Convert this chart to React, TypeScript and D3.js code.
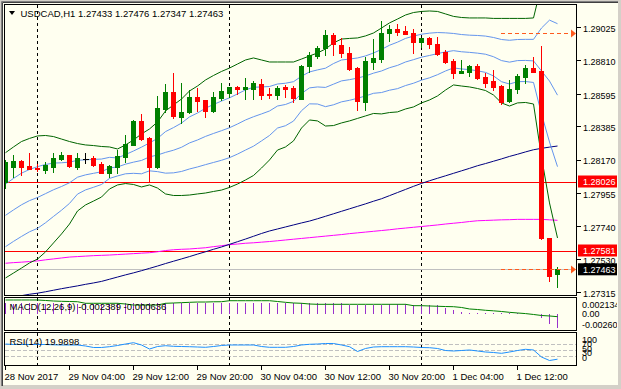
import React from "react";
import * as d3 from "d3";

// ---------- data ----------
const openP = [
  1.28028,1.28125,1.28163,1.28129,1.28118,1.28105,1.28123,1.28174,1.28198,1.28123,
  1.28174,1.28181,1.28142,1.28086,1.28123,1.28189,1.28265,1.28420,1.28310,1.28123,
  1.28497,1.28607,1.28447,1.28479,1.28572,1.28555,1.28486,1.28570,1.28602,1.28637,
  1.28628,1.28628,1.28658,1.28594,1.28587,1.28637,1.28630,1.28563,1.28774,1.28841,
  1.28888,1.28976,1.28910,1.28856,1.28759,1.28544,1.28802,1.28817,1.28985,1.29011,
  1.29002,1.28985,1.28931,1.28953,1.28916,1.28866,1.28808,1.28731,1.28737,1.28774,
  1.28705,1.28679,1.28645,1.28548,1.28624,1.28701,1.28759,1.28744,1.27667,1.27433];
const highP = [
  1.28168,1.28200,1.28168,1.28213,1.28145,1.28155,1.28211,1.28221,1.28200,1.28211,
  1.28211,1.28194,1.28153,1.28136,1.28232,1.28329,1.28426,1.28465,1.28313,1.28581,
  1.28658,1.28731,1.28663,1.28619,1.28630,1.28558,1.28607,1.28667,1.28639,1.28645,
  1.28697,1.28679,1.28688,1.28630,1.28645,1.28650,1.28645,1.28781,1.28866,1.28903,
  1.29006,1.28989,1.28953,1.28899,1.28770,1.28834,1.28946,1.29066,1.29039,1.29045,
  1.29032,1.29011,1.28957,1.28963,1.28963,1.28877,1.28817,1.28813,1.28781,1.28787,
  1.28727,1.28748,1.28652,1.28684,1.28723,1.28781,1.28830,1.28905,1.27668,1.27476];
const lowP = [
  1.27987,1.28058,1.28071,1.28107,1.28097,1.28086,1.28092,1.28168,1.28123,1.28110,
  1.28150,1.28129,1.28082,1.28056,1.28086,1.28157,1.28262,1.28297,1.28026,1.28116,
  1.28478,1.28439,1.28409,1.28469,1.28486,1.28443,1.28479,1.28555,1.28576,1.28594,
  1.28563,1.28563,1.28563,1.28566,1.28563,1.28576,1.28542,1.28559,1.28737,1.28824,
  1.28845,1.28845,1.28834,1.28748,1.28490,1.28490,1.28753,1.28802,1.28937,1.28974,
  1.28979,1.28856,1.28899,1.28888,1.28845,1.28796,1.28699,1.28727,1.28710,1.28688,
  1.28637,1.28619,1.28529,1.28544,1.28598,1.28663,1.28737,1.27658,1.27389,1.27347];
const closeP = [
  1.28155,1.28163,1.28125,1.28110,1.28107,1.28134,1.28181,1.28198,1.28129,1.28181,
  1.28174,1.28136,1.28086,1.28129,1.28194,1.28271,1.28420,1.28303,1.28123,1.28503,
  1.28605,1.28452,1.28478,1.28576,1.28550,1.28486,1.28574,1.28615,1.28637,1.28628,
  1.28637,1.28667,1.28587,1.28587,1.28632,1.28628,1.28566,1.28776,1.28845,1.28892,
  1.28976,1.28914,1.28856,1.28755,1.28547,1.28806,1.28824,1.28989,1.29011,1.28995,
  1.28983,1.28931,1.28953,1.28914,1.28852,1.28802,1.28731,1.28744,1.28774,1.28695,
  1.28667,1.28637,1.28544,1.28624,1.28710,1.28759,1.28737,1.27663,1.27420,1.27463];

const bbUpper2 = [
  1.28215,1.28252,1.28287,1.28307,1.28323,1.28326,1.28319,1.28303,1.28287,1.28274,
  1.28265,1.28261,1.28255,1.28252,1.28239,1.28265,1.28297,1.28336,1.28368,1.28413,
  1.28484,1.28523,1.28561,1.28613,1.28645,1.28684,1.28713,1.28739,1.28761,1.28787,
  1.28813,1.28826,1.28813,1.28800,1.28800,1.28800,1.28800,1.28819,1.28839,1.28858,
  1.28884,1.28923,1.28948,1.28952,1.28955,1.28968,1.28987,1.29019,1.29052,1.29077,
  1.29103,1.29119,1.29126,1.29129,1.29126,1.29110,1.29094,1.29087,1.29084,1.29084,
  1.29084,1.29081,1.29081,1.29081,1.29081,1.29081,1.29084,1.29296,1.29462,1.29507];
const bbUpper1 = [
  1.28013,1.28049,1.28083,1.28107,1.28125,1.28139,1.28148,1.28150,1.28154,1.28166,
  1.28169,1.28172,1.28174,1.28185,1.28181,1.28203,1.28226,1.28251,1.28278,1.28307,
  1.28351,1.28377,1.28406,1.28446,1.28471,1.28502,1.28526,1.28548,1.28569,1.28594,
  1.28620,1.28637,1.28639,1.28642,1.28658,1.28663,1.28673,1.28708,1.28736,1.28749,
  1.28760,1.28790,1.28813,1.28819,1.28826,1.28839,1.28858,1.28881,1.28908,1.28928,
  1.28952,1.28967,1.28979,1.28986,1.28990,1.28988,1.28984,1.28977,1.28973,1.28971,
  1.28967,1.28958,1.28945,1.28940,1.28945,1.28946,1.28946,1.29019,1.29070,1.29047];
const bbMiddle = [
  1.27811,1.27846,1.27879,1.27906,1.27926,1.27951,1.27976,1.27997,1.28021,1.28057,
  1.28072,1.28082,1.28092,1.28117,1.28123,1.28141,1.28154,1.28165,1.28188,1.28200,
  1.28217,1.28231,1.28250,1.28278,1.28297,1.28320,1.28339,1.28357,1.28376,1.28400,
  1.28426,1.28447,1.28465,1.28484,1.28516,1.28526,1.28546,1.28597,1.28633,1.28639,
  1.28636,1.28657,1.28678,1.28686,1.28696,1.28710,1.28728,1.28742,1.28763,1.28778,
  1.28800,1.28815,1.28831,1.28842,1.28854,1.28865,1.28873,1.28866,1.28862,1.28857,
  1.28850,1.28834,1.28809,1.28799,1.28809,1.28810,1.28807,1.28742,1.28677,1.28586];
const bbLower1 = [
  1.27609,1.27643,1.27675,1.27705,1.27727,1.27763,1.27804,1.27844,1.27888,1.27948,
  1.27975,1.27992,1.28010,1.28049,1.28065,1.28079,1.28082,1.28079,1.28098,1.28093,
  1.28083,1.28085,1.28094,1.28110,1.28123,1.28138,1.28152,1.28166,1.28183,1.28206,
  1.28232,1.28257,1.28291,1.28326,1.28374,1.28389,1.28419,1.28486,1.28530,1.28529,
  1.28512,1.28524,1.28543,1.28553,1.28566,1.28581,1.28598,1.28603,1.28618,1.28628,
  1.28648,1.28663,1.28683,1.28698,1.28718,1.28742,1.28762,1.28755,1.28751,1.28743,
  1.28733,1.28710,1.28673,1.28658,1.28673,1.28674,1.28668,1.28465,1.28284,1.28125];
const bbLower2 = [
  1.27407,1.27439,1.27471,1.27504,1.27529,1.27575,1.27633,1.27691,1.27755,1.27839,
  1.27878,1.27903,1.27929,1.27981,1.28007,1.28016,1.28010,1.27994,1.28007,1.27987,
  1.27949,1.27939,1.27939,1.27942,1.27949,1.27955,1.27965,1.27974,1.27991,1.28013,
  1.28039,1.28068,1.28116,1.28168,1.28232,1.28252,1.28291,1.28374,1.28426,1.28420,
  1.28387,1.28390,1.28407,1.28420,1.28436,1.28452,1.28468,1.28465,1.28474,1.28478,
  1.28497,1.28510,1.28536,1.28555,1.28581,1.28619,1.28652,1.28645,1.28639,1.28629,
  1.28616,1.28587,1.28536,1.28516,1.28536,1.28539,1.28529,1.28187,1.27891,1.27665];

const maNavy = [
  1.27276,1.27284,1.27293,1.27302,1.27309,1.27318,1.27328,1.27338,1.27347,1.27356,
  1.27366,1.27375,1.27385,1.27399,1.27413,1.27427,1.27440,1.27454,1.27469,1.27484,
  1.27500,1.27515,1.27530,1.27545,1.27561,1.27576,1.27592,1.27607,1.27624,1.27641,
  1.27658,1.27676,1.27694,1.27710,1.27723,1.27736,1.27749,1.27762,1.27774,1.27789,
  1.27805,1.27821,1.27837,1.27853,1.27869,1.27885,1.27902,1.27918,1.27938,1.27958,
  1.27978,1.27998,1.28017,1.28034,1.28050,1.28066,1.28082,1.28098,1.28114,1.28131,
  1.28145,1.28160,1.28175,1.28191,1.28205,1.28220,1.28234,1.28243,1.28251,1.28258];
const maMagenta = [
  1.27502,1.27506,1.27509,1.27513,1.27517,1.27524,1.27530,1.27536,1.27542,1.27545,
  1.27548,1.27551,1.27553,1.27555,1.27558,1.27561,1.27564,1.27567,1.27570,1.27576,
  1.27584,1.27589,1.27592,1.27594,1.27598,1.27602,1.27609,1.27615,1.27622,1.27626,
  1.27631,1.27634,1.27638,1.27642,1.27647,1.27652,1.27657,1.27662,1.27667,1.27672,
  1.27677,1.27682,1.27687,1.27693,1.27698,1.27703,1.27708,1.27713,1.27718,1.27724,
  1.27729,1.27734,1.27739,1.27744,1.27749,1.27755,1.27760,1.27765,1.27771,1.27776,
  1.27778,1.27780,1.27782,1.27783,1.27785,1.27785,1.27785,1.27785,1.27782,1.27779];

const macdMain = [
  0.00176,0.00175,0.00176,0.00177,0.00176,0.00175,0.00176,0.00177,0.00176,0.00175,
  0.00176,0.00175,0.00174,0.00175,0.00176,0.00180,0.00184,0.00184,0.00180,0.00182,
  0.00184,0.00181,0.00180,0.00180,0.00179,0.00178,0.00179,0.00180,0.00181,0.00181,
  0.00180,0.00180,0.00179,0.00178,0.00178,0.00177,0.00178,0.00180,0.00181,0.00179,
  0.00180,0.00179,0.00178,0.00152,0.00150,0.00150,0.00151,0.00152,0.00162,0.00162,
  0.00161,0.00152,0.00150,0.00150,0.00149,0.00095,0.00067,0.00038,0.00012,0.00010,
  0.00010,0.00010,0.00010,0.00010,0.00010,0.00008,-0.00006,-0.00072,-0.00172,-0.002389];
const macdSignal = [
  0.00234,0.00234,0.00234,0.00234,0.00234,0.00226,0.00217,0.00212,0.00209,0.00205,
  0.00179,0.00179,0.00179,0.00179,0.00179,0.00167,0.00150,0.00150,0.00150,0.00150,
  0.00179,0.00184,0.00189,0.00195,0.00200,0.00200,0.00204,0.00205,0.00222,0.00222,
  0.00222,0.00222,0.00222,0.00222,0.00209,0.00195,0.00184,0.00179,0.00167,0.00162,
  0.00162,0.00162,0.00162,0.00162,0.00162,0.00162,0.00162,0.00162,0.00162,0.00162,
  0.00162,0.00139,0.00139,0.00134,0.00129,0.00125,0.00122,0.00109,0.00084,0.00075,
  0.00062,0.00053,0.00042,0.00028,0.00017,0.00007,-0.00008,-0.00025,-0.00033,-0.00045];
const rsiValues = [
  69.8,68.2,68.2,68.2,68.2,68.2,67.2,66.6,66.6,66.6,
  63.3,58.4,58.4,61.0,64.9,69.8,74.1,66.6,53.4,61.6,
  64.3,62.3,61.6,61.0,60.0,59.0,61.6,64.9,66.6,66.6,
  66.6,66.6,61.6,59.0,59.0,59.0,61.6,66.6,68.9,69.8,
  71.5,71.5,66.6,61.0,45.2,55.1,60.0,61.0,61.0,61.0,
  61.0,60.0,58.4,57.7,55.1,48.5,46.9,48.5,50.2,46.9,
  43.6,42.0,39.3,43.6,48.5,52.5,50.2,27.2,15.7,19.99];

const timeTicks = [
  { bar: 0, label: "28 Nov 2017" },
  { bar: 8, label: "29 Nov 04:00" },
  { bar: 16, label: "29 Nov 12:00" },
  { bar: 24, label: "29 Nov 20:00" },
  { bar: 32, label: "30 Nov 04:00" },
  { bar: 40, label: "30 Nov 12:00" },
  { bar: 48, label: "30 Nov 20:00" },
  { bar: 56, label: "1 Dec 04:00" },
  { bar: 64, label: "1 Dec 12:00" },
];
const daySeparatorBars = [4, 28, 52];
const priceTicks = [1.29025, 1.2881, 1.28595, 1.28385, 1.2817, 1.27955, 1.2774, 1.2753, 1.27315];
const redLevels = [1.28026, 1.27581];
const bidPrice = 1.27463;
const arrowLevels = [1.28985, 1.27463];
const rsiLevels = [70, 50, 30];
const titleText = "USDCAD,H1  1.27433 1.27476 1.27347 1.27463";
const macdText = "MACD(12,26,9) -0.002389 -0.000636";
const rsiText = "RSI(14) 19.9898";
const macdLabels = ["0.002134", "0.00", "-0.002604"];
const rsiLabels = ["100", "70", "50", "30", "0"];

// ---------- layout ----------
const W = 621, H = 389;
const L = 4.5, R = 576.5;
const mainTop = 4.5, mainBot = 295.5;
const macdTop = 297.5, macdBot = 330.5;
const rsiTop = 332.5, rsiBot = 365.5;
const FONT = "'Liberation Sans', Arial, sans-serif";
const BG = "#FFFFF0";

export default function App() {
  const n = closeP.length;
  const x = d3.scaleLinear().domain([0, n - 1]).range([5.5, 5.5 + 8 * (n - 1)]);
  const y = d3.scaleLinear().domain([1.27581, 1.28026]).range([251, 182]);
  const yM = d3.scaleLinear().domain([-0.002389, 0]).range([328.3, 314]);
  const yR = d3.scaleLinear().domain([0, 100]).range([365.3, 334.8]);

  const mk = (arr: number[], sc: (v: number) => number) =>
    d3.line<number>().x((_, i) => x(i)).y((d) => sc(d))(arr) || "";

  const bbBlue = [bbUpper1, bbMiddle, bbLower1];
  const bbGreen = [bbUpper2, bbLower2];

  return (
    <svg
      width={W}
      height={H}
      style={{ position: "absolute", left: 0, top: 0, display: "block" }}
      fontFamily={FONT}
    >
      <defs>
        <clipPath id="mainClip">
          <rect x={L + 0.5} y={mainTop + 0.5} width={R - L - 1} height={mainBot - mainTop - 1} />
        </clipPath>
        <clipPath id="macdClip">
          <rect x={L + 0.5} y={macdTop + 0.5} width={R - L - 1} height={macdBot - macdTop - 1} />
        </clipPath>
        <clipPath id="rsiClip">
          <rect x={L + 0.5} y={rsiTop + 0.5} width={R - L - 1} height={rsiBot - rsiTop - 1} />
        </clipPath>
        <clipPath id="allClip">
          <rect x={0} y={0} width={617} height={H} />
        </clipPath>
      </defs>

      {/* window frame */}
      <rect x={0} y={0} width={W} height={H} fill="#D4D0C8" />
      <rect x={2} y={2} width={616} height={383} fill={BG} />
      <line x1={1.5} y1={1.5} x2={618} y2={1.5} stroke="#808080" />
      <line x1={1.5} y1={1.5} x2={1.5} y2={386} stroke="#808080" />
      <line x1={2.5} y1={2.5} x2={618} y2={2.5} stroke="#404040" />
      <line x1={2.5} y1={2.5} x2={2.5} y2={386} stroke="#404040" />

      {/* main panel */}
      <g clipPath="url(#mainClip)">
        {daySeparatorBars.map((b) => (
          <line key={"s" + b} x1={x(b)} x2={x(b)} y1={mainTop} y2={mainBot} stroke="#000" strokeDasharray="3,3" shapeRendering="crispEdges" />
        ))}
        {redLevels.map((p) => (
          <line key={"r" + p} x1={L} x2={R} y1={Math.round(y(p)) + 0.5} y2={Math.round(y(p)) + 0.5} stroke="#FF0000" shapeRendering="crispEdges" />
        ))}
        <line x1={L} x2={R} y1={Math.round(y(bidPrice)) + 0.5} y2={Math.round(y(bidPrice)) + 0.5} stroke="#C0C0C0" shapeRendering="crispEdges" />
        <path d={mk(maMagenta, y)} fill="none" stroke="#FF00FF" strokeWidth={1} />
        <path d={mk(maNavy, y)} fill="none" stroke="#000080" strokeWidth={1} />
        {bbBlue.map((arr, k) => (
          <path key={"bb" + k} d={mk(arr, y)} fill="none" stroke="#6495ED" strokeWidth={1} />
        ))}
        {bbGreen.map((arr, k) => (
          <path key={"bg" + k} d={mk(arr, y)} fill="none" stroke="#006400" strokeWidth={1} />
        ))}
        {closeP.map((c, i) => {
          const o = openP[i];
          const cx = x(i);
          const hi = Math.round(y(highP[i]));
          const lo = Math.round(y(lowP[i]));
          if (o === c) {
            const yy = Math.round(y(c)) + 0.5;
            return (
              <g key={i} shapeRendering="crispEdges">
                <line x1={cx} x2={cx} y1={hi} y2={lo + 1} stroke="#000" />
                <line x1={cx - 2.5} x2={cx + 3.5} y1={yy} y2={yy} stroke="#000" />
              </g>
            );
          }
          const up = c > o;
          const col = up ? "#008000" : "#FF0000";
          const top = Math.round(y(Math.max(o, c)));
          const bot = Math.round(y(Math.min(o, c)));
          return (
            <g key={i} shapeRendering="crispEdges">
              <line x1={cx} x2={cx} y1={hi} y2={lo + 1} stroke={col} />
              <rect x={cx - 2.5} y={top} width={5} height={Math.max(1, bot - top + 1)} fill={col} />
            </g>
          );
        })}
        {arrowLevels.map((p) => {
          const yy = Math.round(y(p)) + 0.5;
          return (
            <g key={"a" + p}>
              <line x1={501} x2={572} y1={yy} y2={yy} stroke="#FF5A1E" strokeDasharray="4,3" shapeRendering="crispEdges" />
              <path d={`M${571},${yy - 4} L${576},${yy} L${571},${yy + 4} Z`} fill="#FF5A1E" />
            </g>
          );
        })}
      </g>

      {/* MACD panel */}
      <g clipPath="url(#macdClip)">
        {daySeparatorBars.map((b) => (
          <line key={"ms" + b} x1={x(b)} x2={x(b)} y1={macdTop} y2={macdBot} stroke="#000" strokeDasharray="3,3" shapeRendering="crispEdges" />
        ))}
        {macdMain.map((v, i) => (
          <line key={"mh" + i} x1={x(i)} x2={x(i)} y1={yM(0)} y2={yM(v)} stroke="#9932CC" shapeRendering="crispEdges" />
        ))}
        <path d={mk(macdSignal, yM)} fill="none" stroke="#008000" />
      </g>
      <text x={9.5} y={310} fontSize={9.5} fill="#000">{macdText}</text>

      {/* RSI panel */}
      <g clipPath="url(#rsiClip)">
        {daySeparatorBars.map((b) => (
          <line key={"rs" + b} x1={x(b)} x2={x(b)} y1={rsiTop} y2={rsiBot} stroke="#000" strokeDasharray="3,3" shapeRendering="crispEdges" />
        ))}
        {rsiLevels.map((lv) => (
          <line key={"rl" + lv} x1={L} x2={R} y1={Math.round(yR(lv)) + 0.5} y2={Math.round(yR(lv)) + 0.5} stroke="#C0C0C0" strokeDasharray="4,2" shapeRendering="crispEdges" />
        ))}
        <path d={mk(rsiValues, yR)} fill="none" stroke="#1E90FF" />
      </g>
      <text x={9.5} y={345} fontSize={9.5} fill="#000">{rsiText}</text>

      {/* frames */}
      <g fill="none" stroke="#000" shapeRendering="crispEdges">
        <rect x={L} y={mainTop} width={R - L} height={mainBot - mainTop} />
        <rect x={L} y={macdTop} width={R - L} height={macdBot - macdTop} />
        <rect x={L} y={rsiTop} width={R - L} height={rsiBot - rsiTop} />
      </g>

      {/* title */}
      <path d="M9,11 L15,11 L12,15 Z" fill="#000" />
      <text x={20.5} y={16.8} fontSize={9.5} fill="#000">{titleText}</text>

      {/* price axis */}
      <g clipPath="url(#allClip)">
        {priceTicks.map((p) => (
          <g key={"pt" + p}>
            <line x1={R} x2={R + 4} y1={Math.round(y(p)) + 0.5} y2={Math.round(y(p)) + 0.5} stroke="#000" shapeRendering="crispEdges" />
            <text x={583} y={y(p) + 4.8} fontSize={9} fill="#000">{p.toFixed(5)}</text>
          </g>
        ))}
        {redLevels.map((p) => {
          const yy = y(p);
          return (
            <g key={"rb" + p}>
              <rect x={578} y={yy - 6.5} width={39} height={12} fill="#FF0000" />
              <text x={583} y={yy + 3.3} fontSize={9} fill="#FFF">{p.toFixed(5)}</text>
            </g>
          );
        })}
        <rect x={578} y={y(bidPrice) - 6} width={39} height={12} fill="#000" />
        <text x={583} y={y(bidPrice) + 3.5} fontSize={9} fill="#FFF">{bidPrice.toFixed(5)}</text>

        {/* MACD axis */}
        {macdLabels.map((t, k) => (
          <text key={"ml" + t} x={582} y={[308.3, 317.3, 327.6][k]} fontSize={9} fill="#000">{t}</text>
        ))}
        {/* RSI axis */}
        {rsiLabels.map((t, k) => (
          <text key={"rl" + t} x={582} y={[342.6, 346.6, 351.6, 355.6, 361][k]} fontSize={9} fill="#000">{t}</text>
        ))}
      </g>

      {/* time axis */}
      {timeTicks.map((t) => (
        <g key={"tt" + t.bar}>
          <line x1={x(t.bar)} x2={x(t.bar)} y1={rsiBot} y2={370} stroke="#000" shapeRendering="crispEdges" />
          <text x={x(t.bar) - 1} y={379.5} fontSize={9.5} fill="#000">{t.label}</text>
        </g>
      ))}
    </svg>
  );
}
